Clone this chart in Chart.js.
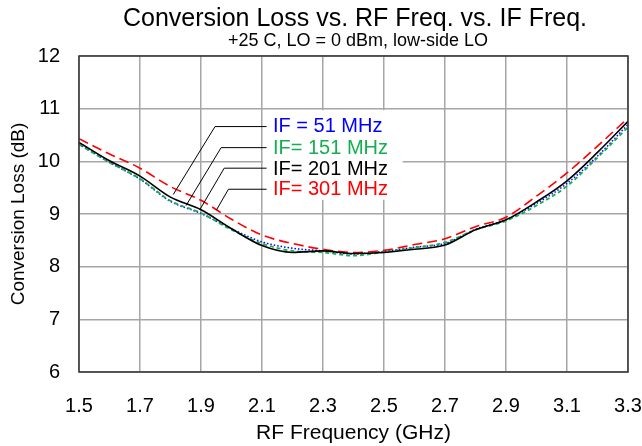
<!DOCTYPE html>
<html lang="en">
<head>
    <meta charset="UTF-8">
    <title>Conversion Loss vs. RF Freq. vs. IF Freq.</title>
    <script src="https://cdn.jsdelivr.net/npm/chart.js"></script>
    <style>
        body { margin: 0; background: #fff; }
        #wrap { width: 642px; height: 446px; }
    </style>
</head>
<body>
    <div id="wrap"><canvas id="lossChart" width="642" height="446"></canvas></div>

    <script>
        // RF frequency (GHz) and conversion loss (dB) for each IF
        const rfFreq = [1.5, 1.6, 1.7, 1.8, 1.9, 2.0, 2.1, 2.2, 2.3, 2.4, 2.5, 2.6, 2.7, 2.8, 2.9, 3.0, 3.1, 3.2, 3.3];
        const loss51  = [10.33, 9.98, 9.66, 9.24, 9.01, 8.72, 8.47, 8.35, 8.30, 8.24, 8.29, 8.37, 8.44, 8.71, 8.89, 9.20, 9.58, 10.10, 10.70];
        const loss151 = [10.32, 9.98, 9.67, 9.25, 9.02, 8.70, 8.44, 8.30, 8.27, 8.21, 8.28, 8.36, 8.46, 8.70, 8.87, 9.16, 9.53, 10.07, 10.65];
        const loss201 = [10.36, 10.01, 9.72, 9.32, 9.08, 8.72, 8.40, 8.27, 8.30, 8.25, 8.27, 8.33, 8.41, 8.70, 8.89, 9.23, 9.63, 10.17, 10.76];
        const loss301 = [10.43, 10.14, 9.87, 9.52, 9.26, 8.90, 8.60, 8.44, 8.33, 8.27, 8.31, 8.42, 8.53, 8.76, 8.94, 9.34, 9.78, 10.29, 10.82];

        const xTicks = [1.5, 1.7, 1.9, 2.1, 2.3, 2.5, 2.7, 2.9, 3.1, 3.3];
        const yTicks = [6, 7, 8, 9, 10, 11, 12];

        const seriesNames = ['IF = 51 MHz', 'IF= 151 MHz', 'IF= 201 MHz', 'IF= 301 MHz'];
        const seriesColors = ['#0000ff', '#14b04f', '#000000', '#ff0000'];

        // callout labels: text position, elbow and end of leader, in data units
        const labelX = 2.136;
        const labelY = [10.66, 10.25, 9.84, 9.46];
        const leaderRight = 2.115;
        const elbowX = [1.946, 1.966, 1.976, 1.990];
        const elbowY = [10.66, 10.26, 9.87, 9.47];
        const endX = [1.809, 1.851, 1.897, 1.951];
        const endY = [9.37, 9.16, 9.09, 9.08];
        const boxX = [2.1, 2.558];
        const boxY = [10.97, 9.27];

        const titleText = 'Conversion Loss vs. RF Freq. vs. IF Freq.';
        const subtitleText = '+25 C, LO = 0 dBm, low-side LO';

        const FONT = '"Liberation Sans", Arial, sans-serif';

        function pts(ys) {
            return rfFreq.map((x, i) => ({ x: x, y: ys[i] }));
        }

        const calloutPlugin = {
            id: 'callouts',
            beforeDatasetsDraw(chart) {
                const { ctx, scales: { x, y } } = chart;
                // white box behind callout text hides the grid
                ctx.save();
                ctx.fillStyle = '#fff';
                const x0 = x.getPixelForValue(boxX[0]), x1 = x.getPixelForValue(boxX[1]);
                const y0 = y.getPixelForValue(boxY[0]), y1 = y.getPixelForValue(boxY[1]);
                ctx.fillRect(x0 + 1, y0, x1 - x0, y1 - y0);
                ctx.restore();
            },
            afterDatasetsDraw(chart) {
                const { ctx, chartArea, scales: { x, y } } = chart;
                ctx.save();
                // leaders
                ctx.strokeStyle = '#000';
                ctx.lineWidth = 1;
                for (let i = 0; i < seriesNames.length; i++) {
                    ctx.beginPath();
                    ctx.moveTo(x.getPixelForValue(leaderRight), y.getPixelForValue(elbowY[i]));
                    ctx.lineTo(x.getPixelForValue(elbowX[i]), y.getPixelForValue(elbowY[i]));
                    ctx.lineTo(x.getPixelForValue(endX[i]), y.getPixelForValue(endY[i]));
                    ctx.stroke();
                }
                // labels
                ctx.font = '20px ' + FONT;
                ctx.textBaseline = 'middle';
                ctx.textAlign = 'left';
                for (let i = 0; i < seriesNames.length; i++) {
                    ctx.fillStyle = seriesColors[i];
                    ctx.fillText(seriesNames[i], x.getPixelForValue(labelX), y.getPixelForValue(labelY[i]));
                }
                // plot frame
                ctx.strokeStyle = '#333';
                ctx.lineWidth = 1.5;
                ctx.strokeRect(chartArea.left, chartArea.top, chartArea.right - chartArea.left, chartArea.bottom - chartArea.top);
                // titles
                ctx.fillStyle = '#000';
                ctx.textAlign = 'center';
                ctx.font = '25px ' + FONT;
                ctx.fillText(titleText, 355, 19);
                ctx.font = '18px ' + FONT;
                ctx.fillText(subtitleText, 358, 41);
                ctx.restore();
            }
        };

        const ctx = document.getElementById('lossChart').getContext('2d');
        const lossChart = new Chart(ctx, {
            type: 'line',
            data: {
                datasets: [{
                    label: seriesNames[0],
                    data: pts(loss51),
                    borderColor: seriesColors[0],
                    borderWidth: 1.5,
                    borderDash: [1.5, 2],
                    order: 3
                }, {
                    label: seriesNames[1],
                    data: pts(loss151),
                    borderColor: seriesColors[1],
                    borderWidth: 1.8,
                    borderDash: [4, 3],
                    order: 2
                }, {
                    label: seriesNames[2],
                    data: pts(loss201),
                    borderColor: seriesColors[2],
                    borderWidth: 1.6,
                    order: 0
                }, {
                    label: seriesNames[3],
                    data: pts(loss301),
                    borderColor: seriesColors[3],
                    borderWidth: 1.6,
                    borderDash: [10, 5],
                    order: 1
                }]
            },
            options: {
                responsive: false,
                animation: false,
                devicePixelRatio: 1,
                layout: { padding: { top: 56, right: 14, left: 0, bottom: 0 } },
                elements: {
                    point: { radius: 0 },
                    line: { cubicInterpolationMode: 'monotone', fill: false }
                },
                plugins: {
                    legend: { display: false },
                    tooltip: { enabled: false }
                },
                scales: {
                    x: {
                        type: 'linear',
                        min: 1.5,
                        max: 3.3,
                        afterBuildTicks: (axis) => { axis.ticks = xTicks.map(v => ({ value: v })); },
                        afterFit: (axis) => {
                            axis.height = 74;
                            axis.paddingLeft = 0;
                            axis.paddingRight = 0;
                        },
                        grid: { color: '#a6a6a6', lineWidth: 1.5, drawTicks: false },
                        border: { display: false },
                        ticks: {
                            padding: 22,
                            color: '#000',
                            font: { family: FONT, size: 20 },
                            maxRotation: 0,
                            callback: (v) => Number(v).toFixed(1)
                        },
                        title: {
                            display: true,
                            text: 'RF Frequency (GHz)',
                            color: '#000',
                            font: { family: FONT, size: 21 },
                            padding: { top: 0, bottom: 0 }
                        }
                    },
                    y: {
                        min: 6,
                        max: 12,
                        afterBuildTicks: (axis) => { axis.ticks = yTicks.map(v => ({ value: v })); },
                        afterFit: (axis) => {
                            axis.width = 79;
                            axis.paddingTop = 0;
                            axis.paddingBottom = 0;
                        },
                        grid: { color: '#a6a6a6', lineWidth: 1.5, drawTicks: false },
                        border: { display: false },
                        ticks: {
                            padding: 19,
                            color: '#000',
                            font: { family: FONT, size: 20 }
                        },
                        title: {
                            display: true,
                            text: 'Conversion Loss (dB)',
                            color: '#000',
                            font: { family: FONT, size: 19 },
                            padding: { top: 7, bottom: 0 }
                        }
                    }
                }
            },
            plugins: [calloutPlugin]
        });
    </script>
</body>
</html>
